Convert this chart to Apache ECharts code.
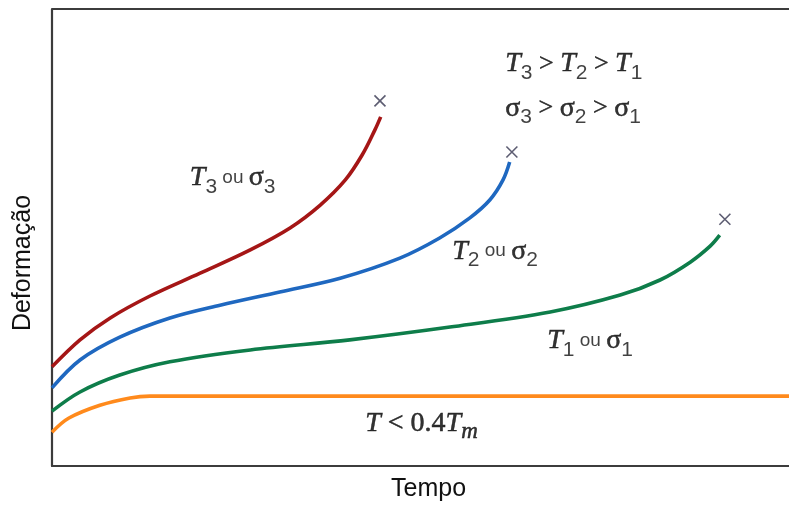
<!DOCTYPE html>
<html><head><meta charset="utf-8">
<script src="https://cdn.jsdelivr.net/npm/echarts@6/dist/echarts.min.js"></script>
<style>html,body{margin:0;padding:0;background:#fff}#c{width:789px;height:507px}</style>
</head><body><div id="c"></div>
<script>
// Curves: [time, deformation]
const curveRed = [[0,21.7],[3.8,27.6],[7.9,32.4],[13.3,37.2],[20.1,42.2],[26.9,47.3],[32.3,52.1],[36.4,57.1],[39.8,62.6],[42.1,68.1],[43.8,73.5],[44.6,76.4]];
const curveBlue = [[0,17.1],[3.8,23.2],[9.2,28.2],[16.0,32.4],[22.8,35.2],[30.9,38.1],[39.1,41.1],[47.2,45.5],[52.6,49.9],[56.7,54.3],[59.4,58.2],[61.2,62.6],[62.1,66.5]];
const curveGreen = [[0,12.0],[3.8,16.2],[9.2,19.9],[16.0,22.8],[26.9,25.4],[40.4,27.6],[54.0,30.4],[67.6,33.7],[77.1,37.4],[82.5,40.7],[86.6,44.6],[89.3,48.1],[90.6,50.5]];
const curveOrange = [[0,7.4],[2.3,10.5],[6.5,13.3],[10.6,14.9],[13.3,15.3],[30,15.3],[60,15.3],[100,15.3]];
const ruptures = [[44.5,79.9],[62.4,68.7],[91.3,54.0]];
const annotations = [
  {pos:[61.5,88.0], text:'{T|T}{s|3}{g| > }{T|T}{s|2}{g| > }{T|T}{s|1}'},
  {pos:[61.5,78.3], text:'{G|σ}{s|3}{g| > }{G|σ}{s|2}{g| > }{G|σ}{s|1}'},
  {pos:[18.7,63.0], text:'{T|T}{s|3}{o| ou }{G|σ}{s|3}'},
  {pos:[54.3,47.0], text:'{T|T}{s|2}{o| ou }{G|σ}{s|2}'},
  {pos:[67.2,27.4], text:'{T|T}{s|1}{o| ou }{G|σ}{s|1}'},
  {pos:[42.5,9.2], text:'{T|T}{h| < 0.4}{T|T}{m|m}'}
];
const xTitle = 'Tempo';
const yTitle = 'Deformação';

const chart = echarts.init(document.getElementById('c'));
const lineSeries = (data, color) => ({
  type:'line', data, smooth:0.35, showSymbol:false, symbol:'none',
  lineStyle:{color, width:3.6}, silent:true, animation:false
});
const txt = '#000';
const serif = '"Liberation Serif", serif';
const bold = {textBorderColor:'#000', textBorderWidth:0.5};
const frame = {color:'#3c3c3c', width:2.2};
chart.setOption({
  animation:false,
  grid:{left:52, right:0, top:9, bottom:41},
  xAxis:{type:'value', min:0, max:100, axisLine:{show:true, onZero:false, lineStyle:frame}, axisTick:{show:false}, axisLabel:{show:false}, splitLine:{show:false}},
  yAxis:{type:'value', min:0, max:100, interval:100, axisLine:{show:true, onZero:false, lineStyle:frame}, axisTick:{show:false}, axisLabel:{show:false}, splitLine:{show:true, lineStyle:frame}},
  graphic:[
    {type:'text', left:391, top:477, style:{text:xTitle, font:'25px "Liberation Sans", Arial, sans-serif', fill:'#111'}},
    {type:'text', x:23, y:263, rotation:Math.PI/2, style:{text:yTitle, font:'25px "Liberation Sans", Arial, sans-serif', fill:'#111', align:'center', verticalAlign:'middle'}}
  ],
  series:[
    lineSeries(curveOrange,'#ff8a1c'),
    lineSeries(curveGreen,'#0e7d4a'),
    lineSeries(curveBlue,'#1f68c0'),
    lineSeries(curveRed,'#a51616'),
    {type:'scatter', data:ruptures, symbol:'path://M0,0L10,10M10,0L0,10', symbolSize:11,
     itemStyle:{color:'none', borderColor:'#35354f', borderWidth:1.6}, silent:true},
    {type:'scatter', symbolSize:0, silent:true,
     data:annotations.map(a=>({value:a.pos, label:{formatter:a.text}})),
     label:{show:true, position:'right', distance:0, color:txt,
       rich:{
         T:Object.assign({fontFamily:serif, fontStyle:'italic', fontSize:28, color:txt}, bold),
         G:Object.assign({fontFamily:serif, fontSize:28, color:txt}, bold),
         g:Object.assign({fontFamily:serif, fontSize:26, color:txt}, bold),
         h:Object.assign({fontFamily:serif, fontSize:28, color:txt}, bold),
         s:{fontFamily:'"Liberation Sans", sans-serif', fontSize:21, color:'#111', padding:[18,0,0,0]},
         m:Object.assign({fontFamily:serif, fontStyle:'italic', fontSize:23, color:txt, padding:[16,0,0,0]}, bold),
         o:{fontFamily:'"Liberation Sans", sans-serif', fontSize:19, color:'#111'}
       }}}
  ]
});
</script></body></html>
